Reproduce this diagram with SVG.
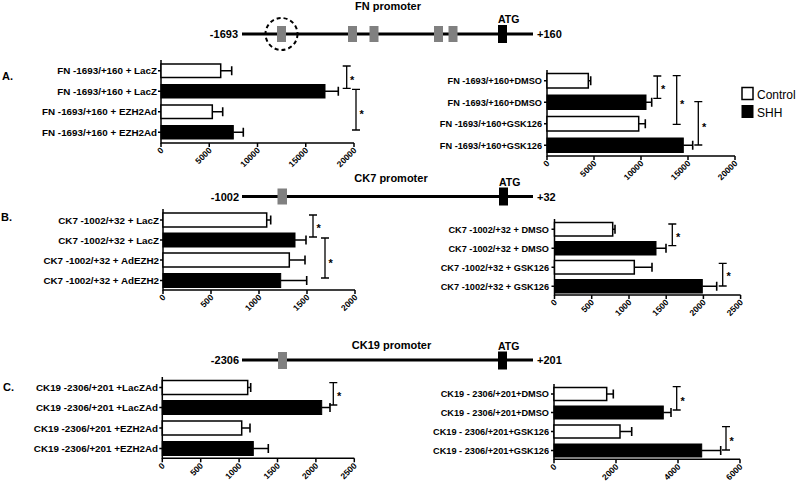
<svg xmlns="http://www.w3.org/2000/svg" width="796" height="486" viewBox="0 0 796 486">
<style>
text{font-family:"Liberation Sans",Arial,sans-serif;fill:#000}
.ttl{font-weight:bold;font-size:11px;text-anchor:middle}
.pl{font-weight:bold;font-size:11px}
.atg{font-weight:bold;font-size:10.5px}
.pn{font-weight:bold;font-size:11px}
.lbl{font-weight:bold;font-size:9.8px;text-anchor:end}
.lblr{font-weight:bold;font-size:9.2px;text-anchor:end}
.tk{font-weight:bold;font-size:8.5px;text-anchor:end}
.st{font-weight:bold;font-size:11px}
.leg{font-size:12px}
.ax{stroke:#000;stroke-width:1.5;fill:none}
.bw{fill:#fff;stroke:#000;stroke-width:1.5}
.bb{fill:#000;stroke:#000;stroke-width:1}
.er{stroke:#000;stroke-width:1.6;fill:none}
.sg{stroke:#000;stroke-width:1.3;fill:none}
.dna{stroke:#000;stroke-width:3}
.gb{fill:#808080}
.kb{fill:#000}
</style>

<!-- FN promoter -->
<g id="fn-promoter">
<text class="ttl" x="388" y="10">FN promoter</text>
<line class="dna" x1="242" y1="34" x2="533" y2="34"/>
<text class="pl" x="238" y="38" text-anchor="end">-1693</text>
<text class="pl" x="537" y="38">+160</text>
<rect class="gb" x="277" y="26" width="9" height="16"/>
<rect class="gb" x="348" y="26" width="9" height="16"/>
<rect class="gb" x="369.5" y="26" width="9" height="16"/>
<rect class="gb" x="434" y="26" width="9" height="16"/>
<rect class="gb" x="448.5" y="26" width="9" height="16"/>
<rect class="kb" x="498" y="25" width="9" height="18"/>
<text class="atg" x="498" y="23">ATG</text>
<circle cx="281.5" cy="34" r="16" fill="none" stroke="#000" stroke-width="2" stroke-dasharray="4 3"/>
</g>

<text class="pn" x="2" y="80">A.</text>

<!-- Panel A left -->
<g id="chartA-left">
<path class="ax" d="M161 60V143H354"/>
<path class="ax" d="M158 70.75H161M158 91.25H161M158 111.75H161M158 132.25H161M161 143V147M209.25 143V147M257.5 143V147M305.75 143V147M354 143V147"/>
<rect class="bw" x="161" y="64" width="59.7" height="13.5"/>
<rect class="bb" x="161" y="84.5" width="164" height="13.5"/>
<rect class="bw" x="161" y="105" width="51.3" height="13.5"/>
<rect class="bb" x="161" y="125.5" width="72.3" height="13.5"/>
<path class="er" d="M220.7 70.75H231.7M231.7 66.25V75.25M325 91.25H338.3M338.3 86.75V95.75M212.3 111.75H222.7M222.7 107.25V116.25M233.3 132.25H243.3M243.3 127.75V136.75"/>
<text class="lbl" x="157" y="74.3">FN -1693/+160 + LacZ</text>
<text class="lbl" x="157" y="94.8">FN -1693/+160 + LacZ</text>
<text class="lbl" x="157" y="115.3">FN -1693/+160 + EZH2Ad</text>
<text class="lbl" x="157" y="135.8">FN -1693/+160 + EZH2Ad</text>
<text class="tk" transform="translate(164,151) rotate(-45)">0</text>
<text class="tk" transform="translate(212.25,151) rotate(-45)">5000</text>
<text class="tk" transform="translate(260.5,151) rotate(-45)">10000</text>
<text class="tk" transform="translate(308.75,151) rotate(-45)">15000</text>
<text class="tk" transform="translate(357,151) rotate(-45)">20000</text>
<path class="sg" d="M342.7 66H350.7M346.7 66V88.3M342.7 88.3H350.7M352 89.3H360M356 89.3V130M352 130H360"/>
<text class="st" x="350" y="84">*</text>
<text class="st" x="359.5" y="118">*</text>
</g>

<!-- Panel A right -->
<g id="chartA-right">
<path class="ax" d="M547 70V156H735"/>
<path class="ax" d="M544 80.75H547M544 102.25H547M544 123.75H547M544 145.25H547M547 156V160M594 156V160M641 156V160M688 156V160M735 156V160"/>
<rect class="bw" x="547" y="73.5" width="41.3" height="14.5"/>
<rect class="bb" x="547" y="95" width="99" height="14.5"/>
<rect class="bw" x="547" y="116.5" width="91.7" height="14.5"/>
<rect class="bb" x="547" y="138" width="136.3" height="14.5"/>
<path class="er" d="M588.3 80.75H590.7M590.7 76.25V85.25M646 102.25H651.7M651.7 97.75V106.75M638.7 123.75H645.3M645.3 119.25V128.25M683.3 145.25H692.7M692.7 140.75V149.75"/>
<text class="lblr" x="542" y="84">FN -1693/+160+DMSO</text>
<text class="lblr" x="542" y="105.5">FN -1693/+160+DMSO</text>
<text class="lblr" x="542" y="127">FN -1693/+160+GSK126</text>
<text class="lblr" x="542" y="148.5">FN -1693/+160+GSK126</text>
<text class="tk" transform="translate(550,164) rotate(-45)">0</text>
<text class="tk" transform="translate(597,164) rotate(-45)">5000</text>
<text class="tk" transform="translate(644,164) rotate(-45)">10000</text>
<text class="tk" transform="translate(691,164) rotate(-45)">15000</text>
<text class="tk" transform="translate(738,164) rotate(-45)">20000</text>
<path class="sg" d="M653.3 76H661.3M657.3 76V98.3M653.3 98.3H661.3M672.7 75.7H680.7M676.7 75.7V124.3M672.7 124.3H680.7M694.3 101.7H702.3M698.3 101.7V145M694.3 145H702.3"/>
<text class="st" x="661" y="93">*</text>
<text class="st" x="680" y="108">*</text>
<text class="st" x="702" y="130.5">*</text>
</g>

<!-- Legend -->
<g id="legend">
<rect class="bw" x="742" y="87.5" width="11" height="12"/>
<rect class="kb" x="741.5" y="105" width="12" height="13"/>
<text class="leg" x="757" y="99">Control</text>
<text class="leg" x="757" y="116.5">SHH</text>
</g>

<!-- CK7 promoter -->
<g id="ck7-promoter">
<text class="ttl" x="391" y="182">CK7 promoter</text>
<line class="dna" x1="242" y1="196.5" x2="533" y2="196.5"/>
<text class="pl" x="239" y="200.5" text-anchor="end">-1002</text>
<text class="pl" x="537" y="200.5">+32</text>
<rect class="gb" x="277.5" y="188.5" width="9.5" height="16"/>
<rect class="kb" x="499" y="187.5" width="9" height="18"/>
<text class="atg" x="499" y="186">ATG</text>
</g>

<text class="pn" x="1" y="221">B.</text>

<!-- Panel B left -->
<g id="chartB-left">
<path class="ax" d="M163 209V290H355"/>
<path class="ax" d="M160 220H163M160 240H163M160 260H163M160 280.5H163M163 290V294M211 290V294M259 290V294M307 290V294M355 290V294"/>
<rect class="bw" x="163" y="213" width="103.7" height="14"/>
<rect class="bb" x="163" y="233" width="132" height="14"/>
<rect class="bw" x="163" y="253" width="126.3" height="14"/>
<rect class="bb" x="163" y="273.5" width="117.7" height="14"/>
<path class="er" d="M266.7 220H270.7M270.7 215.5V224.5M295 240H306M306 235.5V244.5M289.3 260H305M305 255.5V264.5M280.7 280.5H306.7M306.7 276V285"/>
<text class="lbl" x="159" y="223.5">CK7 -1002/+32 + LacZ</text>
<text class="lbl" x="159" y="243.5">CK7 -1002/+32 + LacZ</text>
<text class="lbl" x="159" y="263.5">CK7 -1002/+32 + AdEZH2</text>
<text class="lbl" x="159" y="284">CK7 -1002/+32 + AdEZH2</text>
<text class="tk" transform="translate(166,298) rotate(-45)">0</text>
<text class="tk" transform="translate(214,298) rotate(-45)">500</text>
<text class="tk" transform="translate(262,298) rotate(-45)">1000</text>
<text class="tk" transform="translate(310,298) rotate(-45)">1500</text>
<text class="tk" transform="translate(358,298) rotate(-45)">2000</text>
<path class="sg" d="M309 215H317M313 215V237M309 237H317M321 238H329M325 238V278M321 278H329"/>
<text class="st" x="316.5" y="232.3">*</text>
<text class="st" x="328.5" y="267.3">*</text>
</g>

<!-- Panel B right -->
<g id="chartB-right">
<path class="ax" d="M554.5 219V295H740.6"/>
<path class="ax" d="M551.5 229.25H554.5M551.5 248.25H554.5M551.5 267.25H554.5M551.5 286.25H554.5M554.5 295V299M591.7 295V299M629 295V299M666.2 295V299M703.4 295V299M740.6 295V299"/>
<rect class="bw" x="554.5" y="222.5" width="58.2" height="13.5"/>
<rect class="bb" x="554.5" y="241.5" width="101.5" height="13.5"/>
<rect class="bw" x="554.5" y="260.5" width="79.8" height="13.5"/>
<rect class="bb" x="554.5" y="279.5" width="147.8" height="13.5"/>
<path class="er" d="M612.7 229.25H615M615 224.75V233.75M656 248.25H666M666 243.75V252.75M634.3 267.25H652M652 262.75V271.75M702.3 286.25H716.7M716.7 281.75V290.75"/>
<text class="lblr" x="549" y="232.6">CK7 -1002/+32 + DMSO</text>
<text class="lblr" x="549" y="251.6">CK7 -1002/+32 + DMSO</text>
<text class="lblr" x="549" y="270.6">CK7 -1002/+32 + GSK126</text>
<text class="lblr" x="549" y="289.6">CK7 -1002/+32 + GSK126</text>
<text class="tk" transform="translate(557.5,303) rotate(-45)">0</text>
<text class="tk" transform="translate(594.7,303) rotate(-45)">500</text>
<text class="tk" transform="translate(632,303) rotate(-45)">1000</text>
<text class="tk" transform="translate(669.2,303) rotate(-45)">1500</text>
<text class="tk" transform="translate(706.4,303) rotate(-45)">2000</text>
<text class="tk" transform="translate(743.6,303) rotate(-45)">2500</text>
<path class="sg" d="M668.3 224H676.3M672.3 224V245.7M668.3 245.7H676.3M718.7 263.3H726.7M722.7 263.3V286M718.7 286H726.7"/>
<text class="st" x="676" y="240.6">*</text>
<text class="st" x="726.5" y="280.3">*</text>
</g>

<!-- CK19 promoter -->
<g id="ck19-promoter">
<text class="ttl" x="391.5" y="349">CK19 promoter</text>
<line class="dna" x1="242" y1="360" x2="533" y2="360"/>
<text class="pl" x="239" y="364" text-anchor="end">-2306</text>
<text class="pl" x="537" y="364">+201</text>
<rect class="gb" x="278" y="352" width="9" height="17"/>
<rect class="kb" x="498" y="351.5" width="9" height="18"/>
<text class="atg" x="498" y="349.5">ATG</text>
</g>

<text class="pn" x="3" y="391">C.</text>

<!-- Panel C left -->
<g id="chartC-left">
<path class="ax" d="M162.3 377V458.3H354.3"/>
<path class="ax" d="M159.3 387.5H162.3M159.3 407.5H162.3M159.3 428H162.3M159.3 448.5H162.3M162.3 458.3V462.3M200.7 458.3V462.3M239.1 458.3V462.3M277.5 458.3V462.3M315.9 458.3V462.3M354.3 458.3V462.3"/>
<rect class="bw" x="162.3" y="380.5" width="85.4" height="14"/>
<rect class="bb" x="162.3" y="400.5" width="159.4" height="14"/>
<rect class="bw" x="162.3" y="421" width="79.4" height="14"/>
<rect class="bb" x="162.3" y="441.5" width="91" height="14"/>
<path class="er" d="M247.7 387.5H250.7M250.7 383V392M321.7 407.5H330M330 403V412M241.7 428H250M250 423.5V432.5M253.3 448.5H268.3M268.3 444V453"/>
<text class="lbl" x="158" y="391">CK19 -2306/+201 +LacZAd</text>
<text class="lbl" x="158" y="411">CK19 -2306/+201 +LacZAd</text>
<text class="lbl" x="158" y="431.5">CK19 -2306/+201 +EZH2Ad</text>
<text class="lbl" x="158" y="452">CK19 -2306/+201 +EZH2Ad</text>
<text class="tk" transform="translate(165.3,466.3) rotate(-45)">0</text>
<text class="tk" transform="translate(203.7,466.3) rotate(-45)">500</text>
<text class="tk" transform="translate(242.1,466.3) rotate(-45)">1000</text>
<text class="tk" transform="translate(280.5,466.3) rotate(-45)">1500</text>
<text class="tk" transform="translate(318.9,466.3) rotate(-45)">2000</text>
<text class="tk" transform="translate(357.3,466.3) rotate(-45)">2500</text>
<path class="sg" d="M329.3 382.7H337.3M333.3 382.7V405M329.3 405H337.3"/>
<text class="st" x="337" y="400.3">*</text>
</g>

<!-- Panel C right -->
<g id="chartC-right">
<path class="ax" d="M554 384V459.3H740"/>
<path class="ax" d="M551 394H554M551 412.5H554M551 431.5H554M551 450.5H554M554 459.3V463.3M616 459.3V463.3M678 459.3V463.3M740 459.3V463.3"/>
<rect class="bw" x="554" y="387.5" width="52.7" height="13"/>
<rect class="bb" x="554" y="406" width="109.3" height="13"/>
<rect class="bw" x="554" y="425" width="66" height="13"/>
<rect class="bb" x="554" y="444" width="147.7" height="13"/>
<path class="er" d="M606.7 394H613.3M613.3 389.5V398.5M663.3 412.5H671M671 408V417M620 431.5H631.7M631.7 427V436M701.7 450.5H720.7M720.7 446V455"/>
<text class="lblr" x="549" y="397.3">CK19 - 2306/+201+DMSO</text>
<text class="lblr" x="549" y="415.8">CK19 - 2306/+201+DMSO</text>
<text class="lblr" x="549" y="434.8">CK19 - 2306/+201+GSK126</text>
<text class="lblr" x="549" y="453.8">CK19 - 2306/+201+GSK126</text>
<text class="tk" transform="translate(557,467.3) rotate(-45)">0</text>
<text class="tk" transform="translate(619,467.3) rotate(-45)">2000</text>
<text class="tk" transform="translate(681,467.3) rotate(-45)">4000</text>
<text class="tk" transform="translate(743,467.3) rotate(-45)">6000</text>
<path class="sg" d="M672.7 386.7H680.7M676.7 386.7V410M672.7 410H680.7M722 426.7H730M726 426.7V450M722 450H730"/>
<text class="st" x="680.5" y="405.3">*</text>
<text class="st" x="729.5" y="445.3">*</text>
</g>
</svg>
